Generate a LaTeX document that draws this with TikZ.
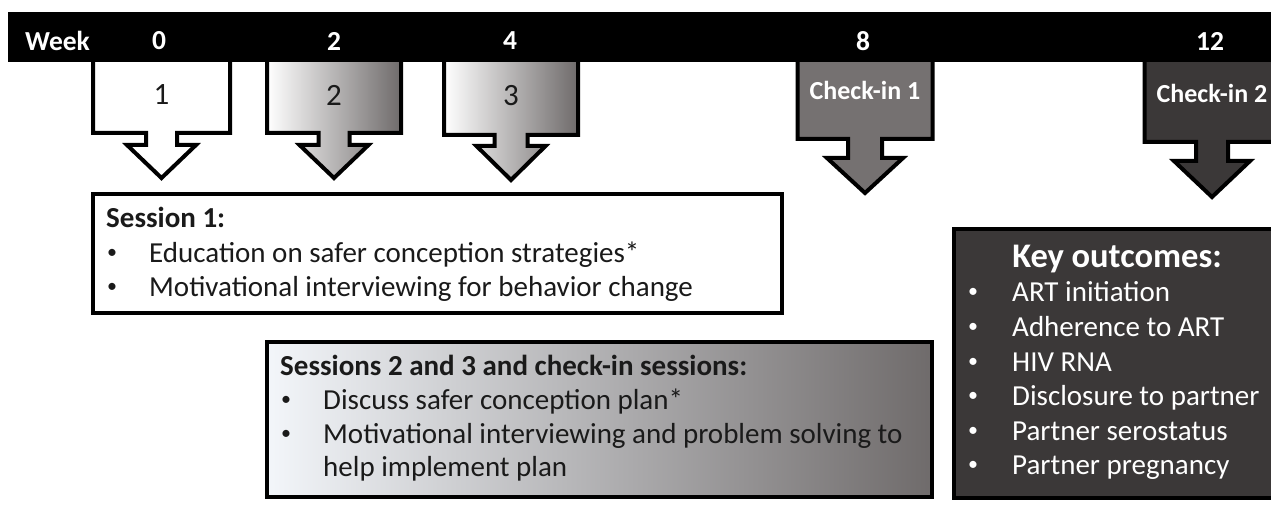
\documentclass[tikz,border=0pt]{standalone}
\usepackage{fontspec}
\setmainfont{Carlito}
\definecolor{chkA}{HTML}{757171}
\definecolor{chkB}{HTML}{3B3838}
\definecolor{gradR}{HTML}{6F6B6B}
\definecolor{gradL}{HTML}{F3F6FA}
\definecolor{txt}{HTML}{1A1A1A}
\tikzset{
  arrowline/.style={draw=black,line width=4pt,line join=miter},
  boxline/.style={draw=black,line width=4.3pt,anchor=north west,inner sep=0pt,outer sep=0pt},
  wk/.style={text=white,font=\bfseries\fontsize{27.5}{30}\selectfont,inner sep=0pt},
  num/.style={text=txt,font=\fontsize{31}{35}\selectfont,inner sep=0pt},
  chk/.style={text=white,font=\bfseries\fontsize{26}{30}\selectfont,inner sep=0pt},
  head/.style={font=\bfseries\fontsize{29}{34}\selectfont,anchor=base west,inner sep=0pt},
  item/.style={font=\fontsize{29}{34}\selectfont,anchor=base west,inner sep=0pt},
  bul/.style={font=\fontsize{20}{24}\selectfont,anchor=base,inner sep=0pt,yshift=4pt}
}
% #1 style, #2 centre x, #3 body half width, #4 body bottom, #5 shaft half width, #6 head top, #7 head half width, #8 tip y
\newcommand\wkarrow[8]{%
  \draw[arrowline,#1] (#2-#3,50) -- (#2-#3,#4) -- (#2-#5,#4) -- (#2-#5,#6) -- (#2-#7,#6)
    -- (#2,#8) -- (#2+#7,#6) -- (#2+#5,#6) -- (#2+#5,#4) -- (#2+#3,#4) -- (#2+#3,50) -- cycle;}
\begin{document}
\begin{tikzpicture}[x=1pt,y=-1pt]
\useasboundingbox (0,0) rectangle (1271,518);
% arrows
\wkarrow{fill=white}{161.5}{68.5}{133}{15.5}{145}{34.5}{178}
\wkarrow{left color=white,right color=gradR}{334}{67}{133}{15.5}{145}{34.5}{178}
\wkarrow{left color=white,right color=gradR}{511}{67}{135}{16.5}{146}{34.5}{180}
\wkarrow{fill=chkA}{865}{67.5}{139}{17}{158}{38}{193}
\wkarrow{fill=chkB}{1212}{67.5}{142}{16}{161}{38}{197}
% bar
\node[fill=black,anchor=north west,minimum width=1263pt,minimum height=50pt,inner sep=0pt,outer sep=0pt] (bar) at (8,12) {};
\node[wk] (w) at (57.5,41) {Week};
\node[wk] (w0) at (159,41) {0};
\node[wk] (w2) at (334,41) {2};
\node[wk] (w4) at (510,41) {4};
\node[wk] (w8) at (863,41) {8};
\node[wk] (w12) at (1210,41) {12};
% arrow labels
\node[num] (n1) at (161.5,95) {1};
\node[num] (n2) at (334,95) {2};
\node[num] (n3) at (511,96) {3};
\node[chk] (c1) at (865,90) {Check-in 1};
\node[chk] (c2) at (1212,93) {Check-in 2};
% Session 1 box
\node[boxline,fill=white,minimum width=689pt,minimum height=119pt] (s1) at (93,194) {};
\node[head,text=txt] (s1h) at (106,228) {Session 1:};
\node[bul,text=txt] (s1b1) at (112,262.7) {•};
\node[item,text=txt] (s1i1) at (149,262.7) {Education on safer conception strategies*};
\node[bul,text=txt] (s1b2) at (112,297) {•};
\node[item,text=txt] (s1i2) at (149,297) {Motivational interviewing for behavior change};
% Sessions 2 and 3 box
\node[boxline,left color=gradL,right color=gradR,minimum width=665pt,minimum height=155pt] (s2) at (267,342) {};
\node[head,text=txt] (s2h) at (280,375) {Sessions 2 and 3 and check-in sessions:};
\node[bul,text=txt] (s2b1) at (286,409) {•};
\node[item,text=txt] (s2i1) at (323,409) {Discuss safer conception plan*};
\node[bul,text=txt] (s2b2) at (286,443) {•};
\node[item,text=txt] (s2i2) at (323,443) {Motivational interviewing and problem solving to};
\node[item,text=txt] (s2i3) at (323,476.5) {help implement plan};
% Key outcomes box
\node[boxline,fill=chkB,minimum width=330pt,minimum height=269pt] (ko) at (954,229) {};
\node[font=\bfseries\fontsize{34.5}{40}\selectfont,text=white,anchor=base,inner sep=0pt] (koh) at (1117,268) {Key outcomes:};
\foreach \t [count=\i] in {ART initiation,Adherence to ART,HIV RNA,Disclosure to partner,Partner serostatus,Partner pregnancy}{
  \node[bul,text=white] (kob\i) at (973,{302+34.5*(\i-1)}) {•};
  \node[item,text=white] (koi\i) at (1012,{302+34.5*(\i-1)}) {\t};
}
\end{tikzpicture}
\end{document}
